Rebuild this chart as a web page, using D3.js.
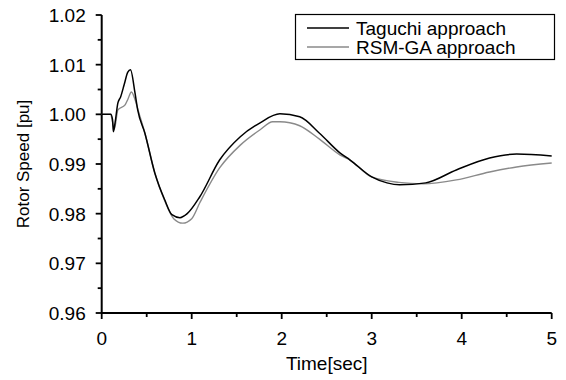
<!DOCTYPE html>
<html>
<head>
<meta charset="utf-8">
<script src="https://cdn.jsdelivr.net/npm/d3@7"></script>
<style>
  html, body { margin: 0; padding: 0; background: #fff; }
  svg { display: block; font-family: Arial, "Liberation Sans", sans-serif; }
</style>
</head>
<body>
<svg id="chart" width="566" height="380"></svg>
<script>
// Rotor speed response after a disturbance, two tuning approaches
const timeTaguchi = [0, 0.10, 0.12, 0.13, 0.15, 0.18, 0.21, 0.25, 0.29, 0.32, 0.37, 0.40, 0.48, 0.59, 0.70, 0.78, 0.87, 0.95, 1.09, 1.31, 1.54, 1.76, 1.98, 2.20, 2.42, 2.65, 2.76, 3.00, 3.17, 3.31, 3.60, 3.94, 4.31, 4.61, 5.00];
const speedTaguchi = [1.000, 1.000, 0.9990, 0.9965, 0.9985, 1.0023, 1.0035, 1.0060, 1.0085, 1.0090, 1.0043, 1.0009, 0.9962, 0.9882, 0.9828, 0.9798, 0.9792, 0.9800, 0.9834, 0.9908, 0.9955, 0.9983, 1.0001, 0.9995, 0.9962, 0.9922, 0.9908, 0.9874, 0.9862, 0.9858, 0.9862, 0.9888, 0.9912, 0.9920, 0.9916];

const timeRsmGa = [0, 0.10, 0.12, 0.14, 0.18, 0.26, 0.29, 0.33, 0.37, 0.41, 0.48, 0.59, 0.70, 0.80, 0.90, 1.00, 1.09, 1.31, 1.54, 1.76, 1.90, 1.98, 2.09, 2.20, 2.42, 2.65, 2.76, 3.00, 3.30, 3.57, 3.94, 4.31, 4.61, 5.00];
const speedRsmGa = [1.000, 1.000, 0.9985, 0.9970, 1.0009, 1.0019, 1.0030, 1.0045, 1.0030, 1.0005, 0.9962, 0.9882, 0.9826, 0.9790, 0.9781, 0.9790, 0.9822, 0.9892, 0.9938, 0.9969, 0.9985, 0.9985, 0.9983, 0.9977, 0.9950, 0.9918, 0.9908, 0.9874, 0.9863, 0.9860, 0.9868, 0.9884, 0.9894, 0.9902];

const xTicks = [0, 0.5, 1, 1.5, 2, 2.5, 3, 3.5, 4, 4.5, 5];
const yTicks = [0.96, 0.965, 0.97, 0.975, 0.98, 0.985, 0.99, 0.995, 1.00, 1.005, 1.01, 1.015, 1.02];
const seriesNames = ["Taguchi approach", "RSM-GA approach"];

const svg = d3.select("#chart");
const x = d3.scaleLinear().domain([0, 5]).range([101.7, 551.7]);
const y = d3.scaleLinear().domain([0.96, 1.02]).range([313, 15]);

const isMajorX = v => Math.abs(v - Math.round(v)) < 1e-9;
const isMajorY = v => Math.abs(v * 100 - Math.round(v * 100)) < 1e-6;

// Bottom axis
const gx = svg.append("g").attr("transform", `translate(0,${y(0.96)})`);
gx.append("line").attr("x1", x(0)).attr("x2", x(5)).attr("stroke", "#000").attr("stroke-width", 2);
gx.selectAll(".tick").data(xTicks).join("line")
  .attr("x1", d => x(d)).attr("x2", d => x(d))
  .attr("y1", 0).attr("y2", d => isMajorX(d) ? 6 : 4)
  .attr("stroke", "#000").attr("stroke-width", 1.8);
gx.selectAll("text").data(xTicks.filter(isMajorX)).join("text")
  .attr("x", d => x(d)).attr("y", 32)
  .attr("text-anchor", "middle").attr("font-size", 19)
  .text(d => d3.format("d")(d));

// Left axis
const gy = svg.append("g").attr("transform", `translate(${x(0)},0)`);
gy.append("line").attr("y1", y(0.96)).attr("y2", y(1.02)).attr("stroke", "#000").attr("stroke-width", 2);
gy.selectAll(".tick").data(yTicks).join("line")
  .attr("y1", d => y(d)).attr("y2", d => y(d))
  .attr("x1", 0).attr("x2", d => isMajorY(d) ? -6 : -4)
  .attr("stroke", "#000").attr("stroke-width", 1.8);
gy.selectAll("text").data(yTicks.filter(isMajorY)).join("text")
  .attr("x", -16).attr("y", d => y(d) + 7)
  .attr("text-anchor", "end").attr("font-size", 19)
  .text(d => d3.format(".2f")(d));

// Axis titles
svg.append("text").attr("x", x(2.5)).attr("y", 370)
  .attr("text-anchor", "middle").attr("font-size", 19).text("Time[sec]");
svg.append("text")
  .attr("transform", `translate(29,${y(0.99)}) rotate(-90)`)
  .attr("text-anchor", "middle").attr("font-size", 17).text("Rotor Speed [pu]");

// Curves
const line = d3.line().x(d => x(d[0])).y(d => y(d[1])).curve(d3.curveMonotoneX);
const taguchi = timeTaguchi.map((t, i) => [t, speedTaguchi[i]]);
const rsmGa = timeRsmGa.map((t, i) => [t, speedRsmGa[i]]);
const colors = ["#000", "#8a8a8a"];

svg.append("path").datum(rsmGa).attr("d", line)
  .attr("fill", "none").attr("stroke", colors[1]).attr("stroke-width", 1.4);
svg.append("path").datum(taguchi).attr("d", line)
  .attr("fill", "none").attr("stroke", colors[0]).attr("stroke-width", 1.5);

// Legend
const lg = svg.append("g");
lg.append("rect").attr("x", 295.5).attr("y", 14.5).attr("width", 259).attr("height", 45)
  .attr("fill", "#fff").attr("stroke", "#000").attr("stroke-width", 1.2);
seriesNames.forEach((name, i) => {
  const yy = 28 + i * 19;
  lg.append("line").attr("x1", 307).attr("x2", 349).attr("y1", yy).attr("y2", yy)
    .attr("stroke", colors[i]).attr("stroke-width", 1.4);
  lg.append("text").attr("x", 356).attr("y", yy + 7).attr("font-size", 19).text(name);
});
</script>
</body>
</html>
